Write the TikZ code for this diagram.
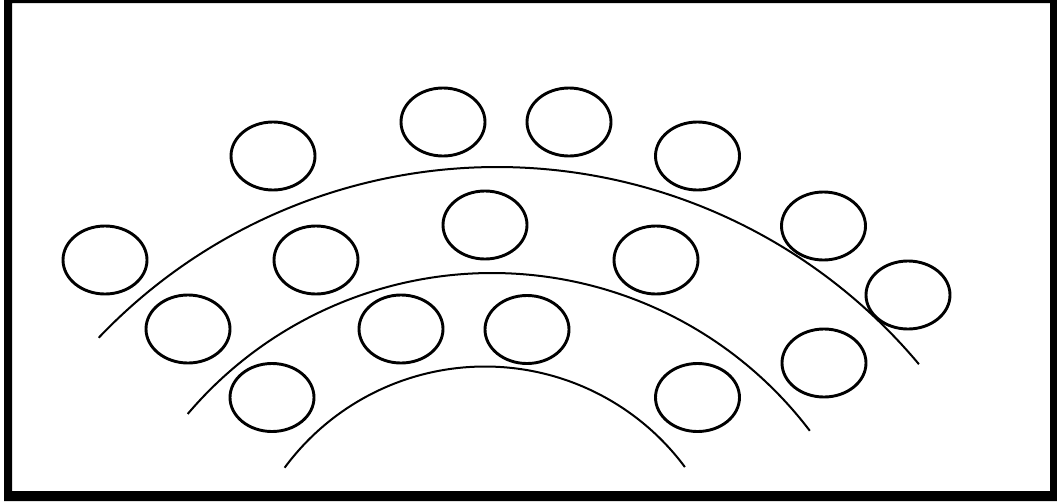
\documentclass[tikz,border=0pt]{standalone}
\usetikzlibrary{shapes.geometric}

\begin{document}
\begin{tikzpicture}[x=1pt,y=1pt,
  seat/.style={draw,ellipse,line width=2.9pt,minimum width=84pt,minimum height=68pt,inner sep=0pt},
  row/.style={line width=2pt}]
\useasboundingbox (0,0) rectangle (1057,-501);
% frame
\fill[even odd rule] (4,0) rectangle (1057,-501) (12,-3) rectangle (1050,-491);
% rows
\draw[row] (497,-717) ++(136.4:550) arc[start angle=136.4,end angle=39.9,radius=550];
\draw[row] (492,-672) ++(139.7:399) arc[start angle=139.7,end angle=37.2,radius=399];
\draw[row] (485,-615.5) ++(143.6:249) arc[start angle=143.6,end angle=36.6,radius=249];
% seats
\node[seat] (s1) at (273,-156) {};
\node[seat] (s2) at (443,-122) {};
\node[seat] (s3) at (569,-122) {};
\node[seat] (s4) at (697.5,-156) {};
\node[seat] (s5) at (105,-260) {};
\node[seat] (s6) at (316,-260) {};
\node[seat] (s7) at (485,-225) {};
\node[seat] (s8) at (656,-260) {};
\node[seat] (s9) at (823.5,-226) {};
\node[seat] (s10) at (908,-295) {};
\node[seat] (s11) at (188,-329) {};
\node[seat] (s12) at (401,-329) {};
\node[seat] (s13) at (527,-329.5) {};
\node[seat] (s14) at (824,-363) {};
\node[seat] (s15) at (272,-397.5) {};
\node[seat] (s16) at (697.5,-397.5) {};
\end{tikzpicture}
\end{document}
